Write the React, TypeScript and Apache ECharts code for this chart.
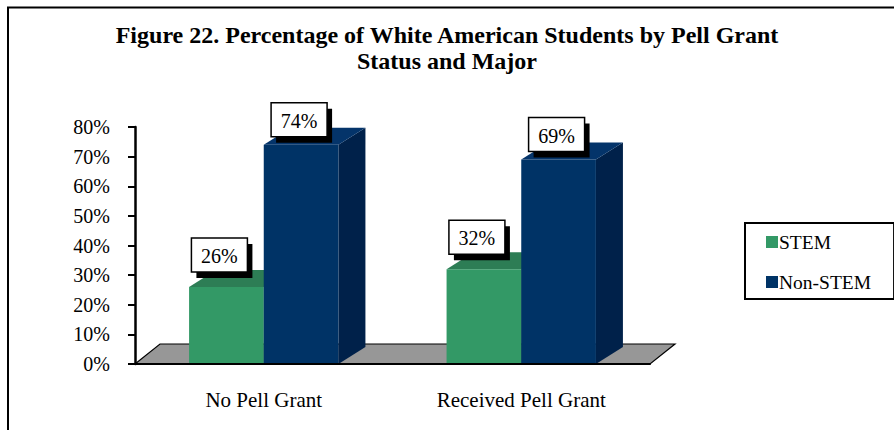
import React, { useEffect, useRef } from "react";
import * as echarts from "echarts";

const categories = ["No Pell Grant", "Received Pell Grant"];
const stemValues = [26, 32];
const nonStemValues = [74, 69];
const seriesNames = ["STEM", "Non-STEM"];
const titleText = "Figure 22. Percentage of White American Students by Pell Grant\nStatus and Major";

const SERIF = "Liberation Serif, Times New Roman, serif";

const palettes = [
  { front: "#339966", top: "#2d7d55", side: "#256b47" },
  { front: "#003366", top: "#04346a", side: "#00214a" },
];

function barRenderer(idx: number) {
  const pal = palettes[idx];
  return (params: any, api: any) => {
    const ci = api.value(0);
    const v = api.value(1);
    const base = api.coord([ci, 0]);
    const top = api.coord([ci, v]);
    const band = api.size([1, 0])[0];
    const bw = band * 0.29;
    const x0 = base[0] + (idx === 0 ? -bw : 0);
    const x1 = x0 + bw;
    const yT = top[1];
    const yB = base[1];
    const dx = 27;
    const dy = -17;
    return {
      type: "group",
      children: [
        {
          type: "polygon",
          shape: { points: [[x1, yT], [x1 + dx, yT + dy], [x1 + dx, yB + dy], [x1, yB]] },
          style: { fill: pal.side },
        },
        {
          type: "polygon",
          shape: { points: [[x0, yT], [x0 + dx, yT + dy], [x1 + dx, yT + dy], [x1, yT]] },
          style: { fill: pal.top },
        },
        {
          type: "rect",
          shape: { x: x0, y: yT, width: bw, height: yB - yT },
          style: { fill: pal.front },
        },
      ],
    };
  };
}

function labelRenderer(idx: number) {
  return (params: any, api: any) => {
    const ci = api.value(0);
    const v = api.value(1);
    const base = api.coord([ci, 0]);
    const top = api.coord([ci, v]);
    const band = api.size([1, 0])[0];
    const bw = band * 0.29;
    const x0 = base[0] + (idx === 0 ? -bw : 0);
    const cx = x0 + bw / 2 + (idx === 0 ? -7 : -2);
    const gap = idx === 0 ? 15 : 8;
    const w = 56;
    const h = 34;
    const bx = cx - w / 2;
    const by = top[1] - gap - h;
    return {
      type: "group",
      children: [
        { type: "rect", shape: { x: bx + 5, y: by + 6, width: w, height: h }, style: { fill: "#000" } },
        {
          type: "rect",
          shape: { x: bx, y: by, width: w, height: h },
          style: { fill: "#fff", stroke: "#000", lineWidth: 1.5 },
        },
        {
          type: "text",
          x: bx + w / 2,
          y: by + h / 2 + 1,
          style: {
            text: v + "%",
            fill: "#000",
            fontSize: 20,
            fontFamily: SERIF,
            align: "center",
            verticalAlign: "middle",
          },
        },
      ],
    };
  };
}

function floorRenderer(params: any, api: any) {
  const cs = params.coordSys;
  const x = cs.x;
  const y = cs.y + cs.height;
  const w = cs.width;
  return {
    type: "polygon",
    shape: { points: [[x, y], [x + 25, y - 20], [x + w + 25, y - 20], [x + w, y]] },
    style: { fill: "#979797", stroke: "#000", lineWidth: 1.2 },
  };
}

export default function App() {
  const ref = useRef<HTMLDivElement>(null);
  useEffect(() => {
    if (!ref.current) return;
    const chart = echarts.init(ref.current, null, { renderer: "svg" });
    const stemData = stemValues.map((v, i) => [i, v]);
    const nonData = nonStemValues.map((v, i) => [i, v]);
    chart.setOption({
      animation: false,
      backgroundColor: "#fff",
      title: {
        text: titleText,
        left: "center",
        top: 17,
        textStyle: {
          fontFamily: SERIF,
          fontWeight: "bold",
          fontSize: 24,
          lineHeight: 26,
          color: "#000",
          align: "center",
        },
      },
      legend: {
        data: seriesNames,
        orient: "vertical",
        left: 745,
        top: 223,
        padding: [9, 23, 7, 21],
        itemWidth: 12,
        itemHeight: 12,
        itemGap: 20,
        icon: "rect",
        borderColor: "#000",
        borderWidth: 2,
        backgroundColor: "#fff",
        textStyle: { fontFamily: SERIF, fontSize: 19.5, color: "#000", lineHeight: 20, padding: [0, 0, 0, -4] },
      },
      grid: { left: 135, right: 244, top: 127, bottom: 66, containLabel: false },
      xAxis: {
        type: "category",
        data: categories,
        axisLine: { lineStyle: { color: "#000", width: 2 } },
        axisTick: { length: 7, lineStyle: { color: "#000", width: 2 } },
        axisLabel: { fontFamily: SERIF, fontSize: 21, color: "#000", margin: 25 },
        z: 5,
      },
      yAxis: {
        type: "value",
        min: 0,
        max: 80,
        interval: 10,
        splitLine: { show: false },
        axisLine: { show: true, lineStyle: { color: "#000", width: 2.5 } },
        axisTick: { show: true, length: 7, lineStyle: { color: "#000", width: 2 } },
        axisLabel: { fontFamily: SERIF, fontSize: 20, color: "#000", margin: 25, formatter: "{value}%" },
        z: 5,
      },
      graphic: [
        {
          type: "rect",
          shape: { x: 8, y: 7.5, width: 900, height: 440 },
          style: { fill: "none", stroke: "#000", lineWidth: 2 },
          silent: true,
        },
      ],
      series: [
        {
          type: "custom",
          name: "floor",
          renderItem: floorRenderer,
          data: [[0, 0]],
          encode: { x: 0, y: 1 },
          z: 1,
          silent: true,
        },
        {
          type: "custom",
          name: seriesNames[0],
          renderItem: barRenderer(0),
          data: stemData,
          encode: { x: 0, y: 1 },
          itemStyle: { color: palettes[0].front },
          z: 2,
        },
        {
          type: "custom",
          name: seriesNames[1],
          renderItem: barRenderer(1),
          data: nonData,
          encode: { x: 0, y: 1 },
          itemStyle: { color: palettes[1].front },
          z: 3,
        },
        {
          type: "custom",
          name: "STEM labels",
          renderItem: labelRenderer(0),
          data: stemData,
          encode: { x: 0, y: 1 },
          z: 10,
        },
        {
          type: "custom",
          name: "Non-STEM labels",
          renderItem: labelRenderer(1),
          data: nonData,
          encode: { x: 0, y: 1 },
          z: 10,
        },
      ],
    });
    return () => chart.dispose();
  }, []);
  return (
    <div
      ref={ref}
      style={{ position: "fixed", left: 0, top: 0, width: 894, height: 430, background: "#fff" }}
    />
  );
}
